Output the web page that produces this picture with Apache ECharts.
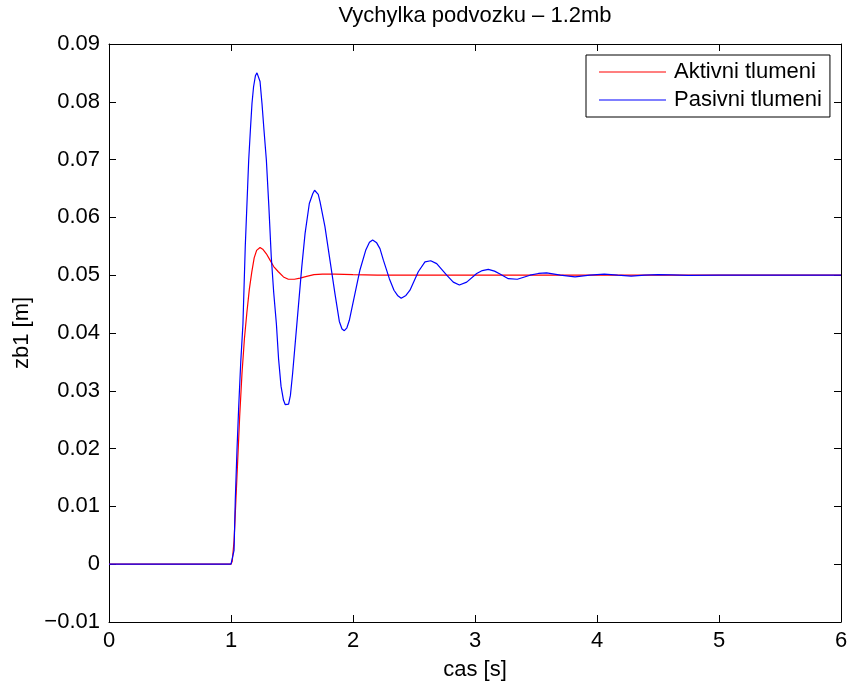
<!DOCTYPE html>
<html>
<head>
<meta charset="utf-8">
<script src="https://cdn.jsdelivr.net/npm/echarts@6/dist/echarts.min.js"></script>
<style>
html,body{margin:0;padding:0;background:#fff;}
#chart{width:851px;height:687px;}
</style>
</head>
<body>
<div id="chart"></div>
<script>
// ---- data ----
const titleText = 'Vychylka podvozku \u2013 1.2mb';
const xName = 'cas [s]';
const yName = 'zb1 [m]';
const seriesNames = ['Aktivni tlumeni', 'Pasivni tlumeni'];

const xTicks = [0, 1, 2, 3, 4, 5, 6];
const xTickLabels = ['0', '1', '2', '3', '4', '5', '6'];
const yTicks = [-0.01, 0, 0.01, 0.02, 0.03, 0.04, 0.05, 0.06, 0.07, 0.08, 0.09];
const yTickLabels = ['\u22120.01', '0', '0.01', '0.02', '0.03', '0.04', '0.05', '0.06', '0.07', '0.08', '0.09'];

// Aktivni tlumeni (red)
const tActive = [0, 1.0, 1.01, 1.025, 1.04, 1.055, 1.071, 1.09, 1.11, 1.13, 1.15, 1.17, 1.19, 1.21, 1.238, 1.26, 1.29, 1.32, 1.35, 1.388, 1.43, 1.47, 1.52, 1.566, 1.62, 1.68, 1.75, 1.85, 2.0, 2.2, 2.5, 3.0, 4.0, 5.0, 6.0];
const zActive = [0, 0, 0.0005, 0.004, 0.011, 0.018, 0.0255, 0.033, 0.039, 0.0435, 0.0475, 0.0505, 0.053, 0.0543, 0.0548, 0.0545, 0.0537, 0.0526, 0.0515, 0.0506, 0.0497, 0.0493, 0.0493, 0.0495, 0.0498, 0.0501, 0.0502, 0.0502, 0.0501, 0.0500, 0.0500, 0.0500, 0.0500, 0.0500, 0.0500];

// Pasivni tlumeni (blue)
const tPassive = [0, 1.0, 1.01, 1.025, 1.035, 1.049, 1.063, 1.08, 1.098, 1.117, 1.145, 1.16, 1.172, 1.185, 1.2, 1.213, 1.225, 1.238, 1.254, 1.27, 1.29, 1.31, 1.33, 1.35, 1.372, 1.39, 1.41, 1.43, 1.445, 1.458, 1.472, 1.487, 1.505, 1.538, 1.58, 1.607, 1.642, 1.67, 1.685, 1.7, 1.715, 1.73, 1.77, 1.811, 1.852, 1.888, 1.91, 1.929, 1.95, 1.97, 2.016, 2.057, 2.104, 2.135, 2.161, 2.194, 2.221, 2.249, 2.298, 2.336, 2.365, 2.395, 2.434, 2.467, 2.535, 2.59, 2.637, 2.686, 2.768, 2.822, 2.872, 2.932, 3.014, 3.06, 3.109, 3.16, 3.205, 3.273, 3.347, 3.451, 3.52, 3.587, 3.70, 3.82, 3.94, 4.06, 4.17, 4.28, 4.39, 4.5, 4.61, 4.75, 5.0, 5.5, 6.0];
const zPassive = [0, 0, 0.0003, 0.0024, 0.011, 0.0197, 0.0272, 0.035, 0.0416, 0.055, 0.0699, 0.0755, 0.0797, 0.0826, 0.0845, 0.0850, 0.0848, 0.0835, 0.0797, 0.0752, 0.0699, 0.062, 0.0532, 0.047, 0.0416, 0.0355, 0.0308, 0.0284, 0.0276, 0.0273, 0.0277, 0.0292, 0.0330, 0.0411, 0.0514, 0.0572, 0.0624, 0.0641, 0.0647, 0.0647, 0.0640, 0.0627, 0.0584, 0.0526, 0.0468, 0.0420, 0.0407, 0.0404, 0.0409, 0.0422, 0.0468, 0.0509, 0.0543, 0.0557, 0.0561, 0.0556, 0.0546, 0.0526, 0.0494, 0.0474, 0.0465, 0.0460, 0.0465, 0.0474, 0.0506, 0.0523, 0.0525, 0.0520, 0.0500, 0.0488, 0.0483, 0.0488, 0.0503, 0.0508, 0.0510, 0.0507, 0.0502, 0.0494, 0.0493, 0.0500, 0.0503, 0.0504, 0.0500, 0.0497, 0.0500, 0.0502, 0.0500, 0.04985, 0.0500, 0.0501, 0.05005, 0.04998, 0.0500, 0.0500, 0.0500];

// ---- chart ----
const FONT = '"Liberation Sans", Arial, Helvetica, sans-serif';
const zip = (a, b) => a.map((v, i) => [v, b[i]]);
const xMin = xTicks[0], xMax = xTicks[xTicks.length - 1], xStep = xTicks[1] - xTicks[0];
const yMin = yTicks[0], yMax = yTicks[yTicks.length - 1], yStep = 0.01;

function xLabel(v) {
  const i = Math.round((v - xMin) / xStep);
  return xTickLabels[i] !== undefined ? xTickLabels[i] : '';
}
function yLabel(v) {
  const i = Math.round((v - yMin) / yStep);
  return yTickLabels[i] !== undefined ? yTickLabels[i] : '';
}

const mkLine = () => ({ show: true, onZero: false, lineStyle: { color: '#000', width: 1 } });
const mkTick = () => ({ show: true, inside: true, length: 7, lineStyle: { color: '#000', width: 1 } });
const mkLabel = (extra) => Object.assign({ show: true, inside: false, color: '#000', fontSize: 22, fontFamily: FONT }, extra);

const chart = echarts.init(document.getElementById('chart'), null, { renderer: 'canvas' });
chart.setOption({
  backgroundColor: '#fff',
  animation: false,
  title: {
    text: titleText,
    left: 475,
    textAlign: 'center',
    top: 5,
    padding: 0,
    textStyle: { color: '#000', fontSize: 22, fontWeight: 'normal', fontFamily: FONT }
  },
  legend: {
    orient: 'vertical',
    left: 586,
    top: 55,
    padding: [6, 8, 6, 13],
    itemGap: 6,
    itemWidth: 67,
    itemHeight: 1.2,
    icon: 'rect',
    borderColor: '#000',
    borderWidth: 1,
    backgroundColor: '#fff',
    textStyle: { color: '#000', fontSize: 22, fontFamily: FONT, padding: [0, 0, 0, 3] },
    data: seriesNames
  },
  grid: { left: 109, right: 10, top: 44, bottom: 65, containLabel: false },
  xAxis: [
    {
      type: 'value', position: 'bottom', min: xMin, max: xMax, interval: xStep,
      axisLine: mkLine(), axisTick: mkTick(), splitLine: { show: false },
      axisLabel: mkLabel({ margin: 8, formatter: xLabel }),
      name: xName, nameLocation: 'middle', nameGap: 37,
      nameTextStyle: { color: '#000', fontSize: 22, fontFamily: FONT }
    },
    {
      type: 'value', position: 'top', min: xMin, max: xMax, interval: xStep,
      axisLine: mkLine(), axisTick: mkTick(), splitLine: { show: false }, axisLabel: { show: false }
    }
  ],
  yAxis: [
    {
      type: 'value', position: 'left', min: yMin, max: yMax, interval: yStep,
      axisLine: mkLine(), axisTick: mkTick(), splitLine: { show: false },
      axisLabel: mkLabel({ margin: 9, formatter: yLabel }),
      name: yName, nameLocation: 'middle', nameGap: 69, nameRotate: 90,
      nameTextStyle: { color: '#000', fontSize: 22, fontFamily: FONT }
    },
    {
      type: 'value', position: 'right', min: yMin, max: yMax, interval: yStep,
      axisLine: mkLine(), axisTick: mkTick(), splitLine: { show: false }, axisLabel: { show: false }
    }
  ],
  series: [
    {
      name: seriesNames[0], type: 'line', data: zip(tActive, zActive),
      showSymbol: false, symbol: 'none', color: '#ff0000',
      lineStyle: { color: '#ff0000', width: 1.2 }, z: 2
    },
    {
      name: seriesNames[1], type: 'line', data: zip(tPassive, zPassive),
      showSymbol: false, symbol: 'none', color: '#0000ff',
      lineStyle: { color: '#0000ff', width: 1.2 }, z: 3
    }
  ]
});
</script>
</body>
</html>
